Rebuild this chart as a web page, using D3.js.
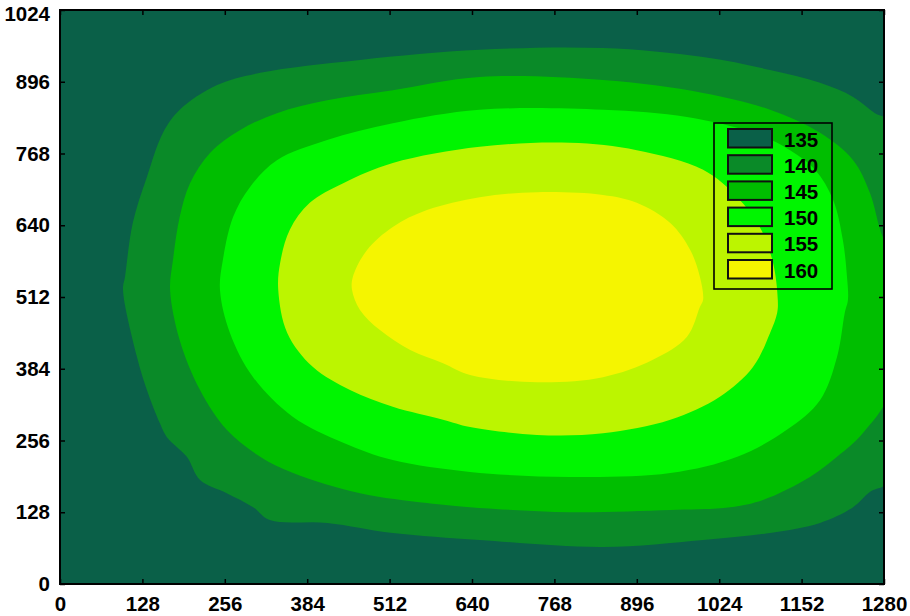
<!DOCTYPE html>
<html>
<head>
<meta charset="utf-8">
<script src="https://cdn.jsdelivr.net/npm/d3@7"></script>
<style>
  html, body { margin: 0; padding: 0; background: #ffffff; }
  svg { display: block; }
  text { font-family: "Liberation Sans", Arial, sans-serif; font-weight: bold; }
</style>
</head>
<body>
<svg id="chart" width="910" height="616"></svg>
<script>
// ---------------- data ----------------
const xTicks = [0, 128, 256, 384, 512, 640, 768, 896, 1024, 1152, 1280];
const yTicks = [0, 128, 256, 384, 512, 640, 768, 896, 1024];
const levels = [135, 140, 145, 150, 155, 160];

// contour boundaries (data units), each encloses values >= level
const contour140 = [[652,953],[843.5,956],[999,940],[1103,917],[1180.6,894],[1232,869],[1266,840],[1289,824],
  [1289,185.5],[1258,164],[1232,137],[1180.6,109],[1103,91],[999,78.5],[843.5,66],[652,78.5],[517,91],[415,109],
  [326,114],[300,137],[259,162],[217.5,185.5],[197,227],[166,262],[155,287],[135,346],[119.6,405],[97.9,525],
  [101,548],[113,644],[135,726],[160,805],[186,846],[244,890],[311,912],[466,935]];
const contour145 = [[652,904.5],[843.5,899],[999,876],[1103,846],[1180.6,805],[1232,756],[1258,698],[1274,632],
  [1290,578],[1290,346],[1247,269],[1207,227],[1165,191],[1092,150],[1041,137],[948,132],[792,128],[637,137],
  [570,144.5],[466,162],[362,198],[311,227],[259,275],[217.5,346],[186,435],[171,525],[175.5,578],[186,655],
  [202,715],[233,769],[280,810],[337,840],[415,863],[517,881]];
const contour150 = [[248.5,525],[253,578],[269,655],[295,708],[337,756],[415,792],[517,822],[652,846],[843.5,846],
  [974,833],[1076.5,805],[1134,774],[1173,739],[1201,685],[1216,614],[1222.5,548],[1224,507],[1219,483.5],
  [1207,405],[1180.6,328],[1129,275],[1052,227],[948,198],[792,191],[637,200],[517,221],[440,252],[362,298],
  [300,369],[264,448]];
const contour155 = [[339,525],[342,573],[357,632],[388,680],[440,715],[517,751],[652,780],[792,787],[896,774],
  [999,739],[1052,690],[1087,637],[1107.6,573],[1115,507],[1114,483.5],[1103,448],[1076.5,387],[1025,334],
  [948,293],[843.5,269],[741,266],[637,280],[595,293],[517,316],[450.5,346],[393,387],[353,448]];
const contour160 = [[453.6,525],[455,548],[477,596],[517,637],[570,667],[652,690],[741,699],[843.5,694],[896,680],
  [948,644],[979,596],[994,548],[999,507],[994,494],[974,441],[921,400],[843.5,369],[741,360],[637,373],
  [595,394],[544,417.5],[497,453],[466,489]];

// ---------------- styles ----------------
const palette = ["#0a6048", "#0a8a28", "#00be00", "#00f500", "#bcf500", "#f5f500"];

// ---------------- layout ----------------
const svg = d3.select("#chart");
const mLeft = 60, mRight = 884, mTop = 10, mBottom = 584;
const x = d3.scaleLinear().domain([0, 1280]).range([mLeft, mRight]);
const y = d3.scaleLinear().domain([0, 1024]).range([mBottom, mTop]);

svg.append("defs").append("clipPath").attr("id", "plotclip")
  .append("rect").attr("x", mLeft).attr("y", mTop).attr("width", mRight - mLeft).attr("height", mBottom - mTop);

const plot = svg.append("g").attr("clip-path", "url(#plotclip)");
plot.append("rect").attr("x", mLeft).attr("y", mTop).attr("width", mRight - mLeft).attr("height", mBottom - mTop)
  .attr("fill", palette[0]);

const line = d3.line().x(d => x(d[0])).y(d => y(d[1])).curve(d3.curveCatmullRomClosed.alpha(0.5));
const contours = [contour140, contour145, contour150, contour155, contour160];
plot.selectAll("path.band").data(contours).join("path")
  .attr("class", "band")
  .attr("d", d => line(d))
  .attr("fill", (d, i) => palette[i + 1]);

// axes
const fontSize = 20.5;
const gx = svg.append("g").attr("transform", `translate(0,${mBottom})`)
  .call(d3.axisBottom(x).tickValues(xTicks).tickSizeInner(-5).tickSizeOuter(0).tickPadding(12).tickFormat(d3.format("d")));
const gy = svg.append("g").attr("transform", `translate(${mLeft},0)`)
  .call(d3.axisLeft(y).tickValues(yTicks).tickSizeInner(-5).tickSizeOuter(0).tickPadding(10).tickFormat(d3.format("d")));
const gt = svg.append("g").attr("transform", `translate(0,${mTop})`)
  .call(d3.axisTop(x).tickValues(xTicks).tickSizeInner(-5).tickSizeOuter(0).tickFormat(""));
const gr = svg.append("g").attr("transform", `translate(${mRight},0)`)
  .call(d3.axisRight(y).tickValues(yTicks).tickSizeInner(-5).tickSizeOuter(0).tickFormat(""));
[gx, gy, gt, gr].forEach(g => {
  g.select(".domain").remove();
  g.selectAll(".tick line").attr("stroke", "#000").attr("stroke-width", 1.5);
  g.selectAll(".tick text").attr("fill", "#000").style("font-size", fontSize + "px")
    .style("font-family", "'Liberation Sans', Arial, sans-serif").style("font-weight", "bold");
});
// keep the topmost y label inside the picture
gy.selectAll(".tick text").filter(d => d === 1024).attr("dy", "0.5em");

// frame
svg.append("rect").attr("x", mLeft).attr("y", mTop).attr("width", mRight - mLeft).attr("height", mBottom - mTop)
  .attr("fill", "none").attr("stroke", "#000").attr("stroke-width", 2);

// legend
const lg = svg.append("g");
lg.append("rect").attr("x", 714).attr("y", 123).attr("width", 118).attr("height", 166)
  .attr("fill", "none").attr("stroke", "#000").attr("stroke-width", 1.6);
const rowH = 26.2;
const items = lg.selectAll("g.item").data(levels).join("g").attr("class", "item")
  .attr("transform", (d, i) => `translate(0,${129 + i * rowH})`);
items.append("rect").attr("x", 728).attr("y", 0).attr("width", 44).attr("height", 18.5)
  .attr("fill", (d, i) => palette[i]).attr("stroke", "#111").attr("stroke-width", 2);
items.append("text").attr("x", 784).attr("y", 17.5).text(d => d)
  .style("font-size", fontSize + "px").attr("fill", "#000");
</script>
</body>
</html>
